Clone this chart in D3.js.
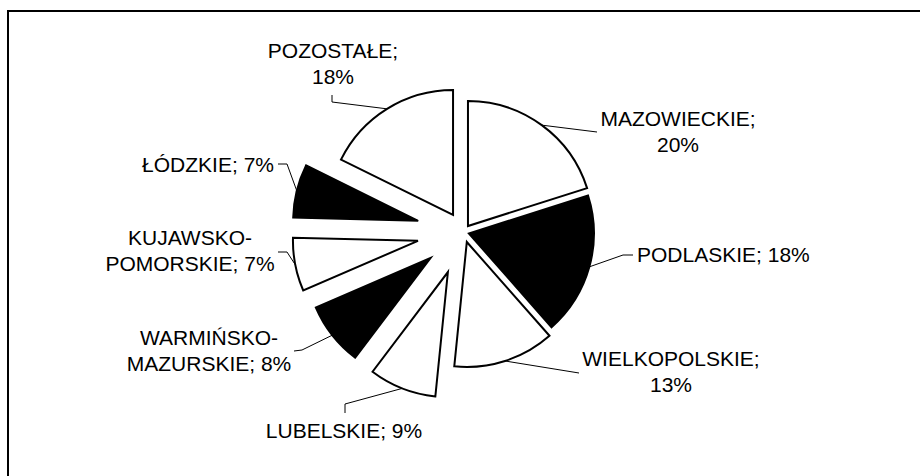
<!DOCTYPE html>
<html>
<head>
<meta charset="utf-8">
<script src="https://cdn.jsdelivr.net/npm/d3@7"></script>
<style>
  body { margin: 0; background: #fff; }
  svg { display: block; }
  text { font-family: "Liberation Sans", Arial, sans-serif; font-size: 21px; fill: #000; }
</style>
</head>
<body>
<div id="chart"></div>
<script>
// regions, clockwise from 12 o'clock
const regions = ['MAZOWIECKIE', 'PODLASKIE', 'WIELKOPOLSKIE', 'LUBELSKIE',
  'WARMIŃSKO-MAZURSKIE', 'KUJAWSKO-POMORSKIE', 'ŁÓDZKIE', 'POZOSTAŁE'];
const shares = [20.1, 18.4, 13.1, 8.7, 8.2, 6.9, 6.9, 17.7];
const percentLabels = ['20%', '18%', '13%', '9%', '8%', '7%', '7%', '18%'];
const fills = ['#fff', '#000', '#fff', '#fff', '#000', '#fff', '#000', '#fff'];

// how far each slice is pulled out of the pie (px)
const explode = [7.4, 5.5, 10.5, 43, 42, 46.5, 46.8, 20];

// label text lines, anchor point and leader elbows (manual layout like in the original)
const labelLines = [
  ['MAZOWIECKIE;', '20%'],
  ['PODLASKIE; 18%'],
  ['WIELKOPOLSKIE;', '13%'],
  ['LUBELSKIE; 9%'],
  ['WARMIŃSKO-', 'MAZURSKIE; 8%'],
  ['KUJAWSKO-', 'POMORSKIE; 7%'],
  ['ŁÓDZKIE; 7%'],
  ['POZOSTAŁE;', '18%']
];
const labelPos = [
  { x: 678, y: 126, anchor: 'middle' },
  { x: 637, y: 262, anchor: 'start' },
  { x: 671, y: 366, anchor: 'middle' },
  { x: 344, y: 438, anchor: 'middle' },
  { x: 209, y: 345, anchor: 'middle' },
  { x: 190, y: 245, anchor: 'middle' },
  { x: 274, y: 172, anchor: 'end' },
  { x: 333, y: 58, anchor: 'middle' }
];
const leaderEnds = [
  [[597, 132]],
  [[623, 255], [633, 255]],
  [[579, 373]],
  [[345, 404], [345, 413]],
  [[302, 350], [294, 351]],
  [[287, 252], [278, 252]],
  [[287, 164], [278, 164]],
  [[332, 102], [332, 95]]
];

const width = 920, height = 476;
const cx = 463.6, cy = 232, radius = 125;
const lineHeight = 26;

const svg = d3.select('#chart').append('svg')
  .attr('width', width)
  .attr('height', height);

// chart area frame (cut off at right and bottom)
svg.append('path')
  .attr('d', `M8,${height} L8,11 L${width},11`)
  .attr('fill', 'none')
  .attr('stroke', '#000')
  .attr('stroke-width', 2);

const pie = d3.pie().sort(null).value(d => d)
  .startAngle(0).endAngle(2 * Math.PI);
const arcs = pie(shares);

const arc = d3.arc().innerRadius(0).outerRadius(radius);

function midAngle(d) {
  return (d.startAngle + d.endAngle) / 2;
}
// centre of a slice after exploding it
function sliceCenter(d, i) {
  const a = midAngle(d);
  return [cx + Math.sin(a) * explode[i], cy - Math.cos(a) * explode[i]];
}

const g = svg.append('g');

g.selectAll('path.slice')
  .data(arcs)
  .enter().append('path')
  .attr('class', 'slice')
  .attr('transform', (d, i) => {
    const c = sliceCenter(d, i);
    return `translate(${c[0]},${c[1]})`;
  })
  .attr('d', arc)
  .attr('fill', (d, i) => fills[i])
  .attr('stroke', '#000')
  .attr('stroke-width', 2)
  .attr('stroke-linejoin', 'miter');

// leader lines from the arc edge to the labels
const line = d3.line();
g.selectAll('path.leader')
  .data(arcs)
  .enter().append('path')
  .attr('class', 'leader')
  .attr('d', (d, i) => {
    const c = sliceCenter(d, i);
    const a = midAngle(d);
    const start = [c[0] + Math.sin(a) * radius, c[1] - Math.cos(a) * radius];
    return line([start].concat(leaderEnds[i]));
  })
  .attr('fill', 'none')
  .attr('stroke', '#000')
  .attr('stroke-width', 1);

const labels = g.selectAll('text.label')
  .data(arcs)
  .enter().append('text')
  .attr('class', 'label')
  .attr('text-anchor', (d, i) => labelPos[i].anchor);

labels.each(function(d, i) {
  const t = d3.select(this);
  labelLines[i].forEach((s, k) => {
    t.append('tspan')
      .attr('x', labelPos[i].x)
      .attr('y', labelPos[i].y + k * lineHeight)
      .text(s);
  });
});
</script>
</body>
</html>
